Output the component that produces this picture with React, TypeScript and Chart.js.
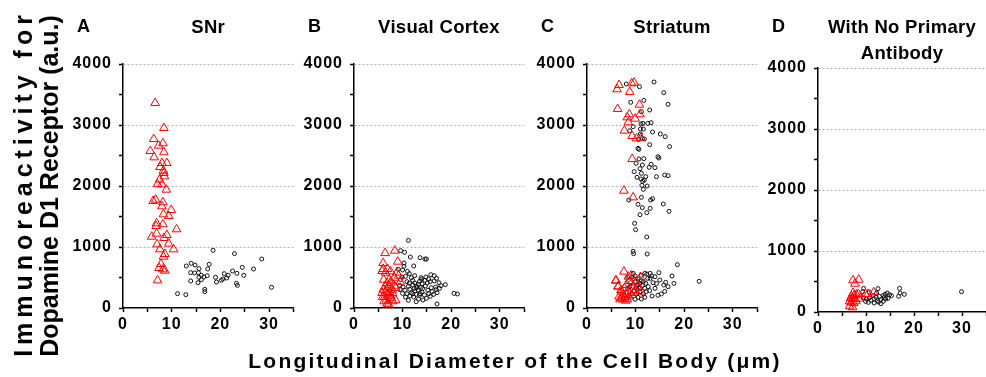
import React, { useEffect, useRef } from 'react';
import { Chart, registerables } from 'chart.js';

Chart.register(...registerables);

const FONT = '"Liberation Sans", Arial, Helvetica, sans-serif';

type Pt = [number, number];

// Axis ticks
const xTickLabels = [0, 10, 20, 30];
const yTickLabels = [0, 1000, 2000, 3000, 4000];

// Panel titles
const panelLetters = ['A', 'B', 'C', 'D'];
const panelTitles = [['SNr'], ['Visual Cortex'], ['Striatum'], ['With No Primary', 'Antibody']];

// A: SNr
const snrTriangles: Pt[] = [
  [6.6, 3361], [8.4, 2951], [6.3, 2770], [8.2, 2700], [7.3, 2661], [5.6, 2574], [6.4, 2470], [8.4, 2552],
  [9.0, 2377], [8.0, 2377], [7.6, 2311], [8.3, 2251], [8.4, 2213], [8.5, 2158], [7.5, 2104], [7.1, 2027],
  [8.0, 2027], [8.9, 1940], [6.7, 1776], [6.2, 1754], [8.2, 1732], [8.0, 1667], [9.9, 1607], [8.3, 1535],
  [9.4, 1508], [6.9, 1388], [8.2, 1372], [6.8, 1344], [11.0, 1290], [6.9, 1219], [5.9, 1169], [9.0, 1197],
  [8.4, 1148], [9.4, 1055], [7.0, 1044], [10.4, 962], [7.6, 962], [8.6, 885], [8.3, 842], [7.8, 721],
  [7.4, 656], [8.2, 634], [8.6, 612], [7.1, 453],
];
const snrCircles: Pt[] = [
  [18.5, 945], [22.9, 891], [28.5, 803], [13.0, 689], [14.0, 732], [14.8, 705], [17.7, 716], [17.4, 639],
  [15.6, 645], [13.9, 579], [14.7, 574], [15.5, 579], [16.1, 536], [16.6, 508], [17.3, 530], [15.6, 503],
  [16.1, 464], [13.9, 443], [15.4, 415], [19.0, 503], [19.2, 426], [20.8, 563], [21.6, 536], [22.5, 607],
  [23.4, 568], [24.5, 667], [24.8, 536], [26.8, 639], [20.5, 475], [21.3, 492], [20.2, 453], [23.3, 404],
  [23.5, 371], [16.8, 306], [16.8, 268], [11.2, 235], [12.9, 219], [30.5, 339],
];

// B: Visual Cortex
const cortexTriangles: Pt[] = [
  [6.4, 900], [8.4, 940], [6.0, 737], [9.0, 759], [5.8, 607], [6.5, 579], [7.5, 601], [8.3, 497],
  [9.2, 530], [7.2, 464], [6.8, 410], [7.6, 437], [6.4, 344], [6.9, 317], [5.8, 246], [7.3, 262],
  [6.3, 180], [6.7, 137], [7.7, 158], [8.6, 126], [7.1, 60], [5.9, 180], [7.0, 224], [8.3, 366],
  [6.1, 464], [7.2, 372], [6.5, 273], [7.9, 246], [6.8, 71], [7.9, 300], [8.6, 330], [6.0, 300],
  [7.5, 200], [8.0, 110], [6.2, 110], [9.5, 430], [8.8, 580], [6.9, 640], [6.0, 640],
];
const cortexCircles: Pt[] = [
  [11.2, 1109], [9.6, 940], [10.4, 913], [11.6, 836], [13.6, 825], [14.6, 803], [14.9, 803], [10.3, 738],
  [10.3, 683], [12.3, 689], [9.1, 634], [10.0, 623], [11.0, 601], [11.4, 563], [9.9, 508], [10.6, 519],
  [12.5, 530], [13.8, 497], [14.8, 508], [15.8, 546], [16.5, 530], [17.0, 486], [9.6, 464], [10.9, 432],
  [12.1, 453], [13.5, 437], [14.6, 453], [15.7, 432], [17.5, 415], [18.8, 383], [9.4, 372], [10.1, 344],
  [11.2, 355], [12.1, 377], [12.9, 355], [13.8, 339], [14.7, 361], [15.9, 333], [16.8, 344], [17.6, 322],
  [10.5, 290], [11.5, 306], [12.5, 279], [13.2, 295], [14.0, 262], [15.2, 290], [16.1, 268], [16.9, 301],
  [10.9, 235], [11.8, 251], [12.8, 224], [13.6, 235], [14.5, 213], [15.4, 235], [16.4, 224], [10.6, 180],
  [12.3, 180], [13.3, 148], [14.2, 131], [20.6, 240], [21.3, 230], [17.1, 66], [11.5, 197], [12.9, 328],
  [12.1, 235], [13.3, 388], [14.1, 317], [15.1, 410], [12.5, 410], [11.4, 410], [13.5, 208], [15.7, 191],
  [14.9, 158], [11.2, 126], [12.8, 104], [10.0, 240], [16.5, 443], [17.1, 251], [17.9, 366], [13.9, 470],
  [15.4, 475], [11.8, 497], [9.5, 301], [14.0, 399], [12.4, 322],
];

// C: Striatum
const striatumTriangles: Pt[] = [
  [6.6, 3656], [6.2, 3585], [9.2, 3683], [9.7, 3694], [8.8, 3541], [6.3, 3262], [10.8, 3333], [8.7, 3175],
  [8.3, 3126], [8.5, 3044], [9.9, 3104], [10.9, 3175], [7.7, 2907], [9.3, 2820], [10.2, 2781], [11.1, 2792],
  [9.3, 2443], [7.6, 1923], [9.5, 1814],
  [7.6, 596], [5.9, 448], [8.5, 514], [11.0, 508], [6.4, 350], [7.0, 295], [7.7, 322], [8.1, 377],
  [8.5, 268], [7.3, 208], [7.8, 175], [8.6, 186], [6.8, 142], [7.5, 142], [8.3, 142], [9.2, 213],
  [9.9, 295], [10.5, 350], [10.2, 415], [9.4, 350], [11.1, 268], [8.8, 443], [8.0, 230], [7.1, 268],
  [6.6, 186], [6.0, 453], [6.4, 355], [9.1, 535], [7.2, 160], [8.0, 120], [9.6, 250],
];
const striatumCircles: Pt[] = [
  [13.8, 3705], [8.1, 3672], [10.8, 3628], [15.8, 3530], [16.7, 3339], [9.0, 3372], [11.7, 3404], [12.9, 3246],
  [11.2, 3219], [11.5, 3027], [11.1, 3016], [12.5, 3027], [13.2, 3038], [9.5, 2973], [11.0, 2934], [11.6, 2934],
  [13.5, 2885], [15.1, 2852], [16.1, 2809], [8.8, 2907], [11.0, 2852], [11.4, 2776], [11.8, 2770], [10.6, 2765],
  [12.9, 2678], [17.0, 2645], [10.5, 2617], [10.7, 2601], [14.6, 2481], [14.8, 2459], [11.7, 2448], [10.7, 2443],
  [13.2, 2355], [10.1, 2372], [11.4, 2344], [14.0, 2301], [10.9, 2284], [12.8, 2306], [9.7, 2235], [16.0, 2180],
  [16.7, 2169], [11.2, 2208], [12.1, 2153], [14.3, 2153], [11.1, 2115], [10.3, 2142], [11.5, 2077], [12.4, 2000],
  [11.8, 2098], [11.3, 2011], [11.6, 1945], [8.6, 1770], [13.1, 1770], [13.5, 1792], [13.0, 1634], [10.5, 1699],
  [15.7, 1705], [16.9, 1585], [11.2, 1814], [11.4, 1645], [12.3, 1563], [10.9, 1530], [9.8, 1388], [10.0, 1284],
  [12.3, 1164], [9.5, 929], [9.6, 890], [12.4, 885],
  [18.6, 710], [23.1, 437], [17.5, 525], [17.9, 404], [14.8, 579], [16.2, 421], [16.7, 350], [16.0, 273],
  [15.3, 230], [14.6, 208], [14.0, 322], [13.6, 415], [13.3, 525], [13.0, 568], [12.3, 557], [11.9, 568],
  [12.5, 486], [11.2, 535], [10.5, 475], [9.9, 525], [9.5, 568], [9.2, 503], [9.9, 432], [10.3, 377],
  [10.9, 322], [11.4, 372], [11.9, 322], [12.6, 350], [12.9, 284], [12.2, 268], [11.6, 230], [11.9, 175],
  [11.2, 148], [10.5, 175], [10.2, 230], [9.7, 284], [9.3, 230], [8.8, 350], [9.0, 415], [8.4, 503],
  [8.4, 322], [9.9, 142], [10.9, 404], [11.6, 432], [13.4, 197], [14.3, 399], [15.0, 459], [15.8, 377],
  [14.0, 514], [10.9, 268], [11.2, 448], [12.1, 404], [13.0, 486], [10.2, 322],
];

// D: With No Primary Antibody
const controlTriangles: Pt[] = [
  [7.3, 519], [8.5, 530], [7.7, 464], [7.3, 311], [7.0, 257], [6.8, 230], [7.5, 268], [8.0, 284],
  [8.4, 295], [7.7, 213], [8.7, 219], [6.9, 158], [7.4, 148], [6.6, 93], [7.2, 77], [9.9, 290],
  [10.4, 295], [11.6, 322], [7.9, 175], [7.3, 213], [6.6, 175],
];
const controlCircles: Pt[] = [
  [9.5, 388], [9.3, 333], [10.7, 328], [12.5, 383], [17.0, 388], [17.1, 311], [18.0, 290], [16.8, 257],
  [29.9, 333], [14.0, 290], [14.4, 311], [13.6, 268], [14.9, 284], [15.3, 268], [12.8, 257], [12.1, 240],
  [11.4, 268], [10.7, 230], [10.1, 213], [9.9, 175], [10.5, 158], [11.7, 148], [12.4, 186], [13.1, 202],
  [13.6, 175], [14.1, 213], [14.6, 224], [13.1, 137], [12.6, 164], [13.8, 235], [11.0, 191], [9.4, 230],
  [11.7, 219], [12.2, 311],
];

const yTitleLines = ['Immunoreactivity for', 'Dopamine D1 Receptor (a.u.)'];
const xTitle = 'Longitudinal Diameter of the Cell Body (\u03bcm)';

interface Spec {
  idx: number;
  tri: Pt[];
  circ: Pt[];
  left: number;
  width: number;
  yWidth: number;
  padRight: number;
  top: number;
  bottom: number;
  yTitle?: boolean;
}

const specs: Spec[] = [
  { idx: 0, tri: snrTriangles, circ: snrCircles, left: 0, width: 300, yWidth: 123, padRight: 6.6, top: 64, bottom: 308, yTitle: true },
  { idx: 1, tri: cortexTriangles, circ: cortexCircles, left: 300, width: 232, yWidth: 54, padRight: 8, top: 64, bottom: 308 },
  { idx: 2, tri: striatumTriangles, circ: striatumCircles, left: 532, width: 232, yWidth: 55, padRight: 7, top: 64, bottom: 308 },
  { idx: 3, tri: controlTriangles, circ: controlCircles, left: 764, width: 228, yWidth: 54, padRight: 4, top: 68, bottom: 312 },
];

function makeTextPlugin(spec: Spec) {
  return {
    id: 'panelText' + spec.idx,
    afterInit(chart: any) {
      chart.ctx.letterSpacing = '1px';
    },
    beforeUpdate(chart: any) {
      chart.ctx.letterSpacing = '1px';
    },
    afterDraw(chart: any) {
      const { ctx, chartArea } = chart;
      ctx.save();
      ctx.fillStyle = '#000';
      ctx.textBaseline = 'alphabetic';
      ctx.letterSpacing = '0px';
      ctx.textAlign = 'left';
      ctx.font = `bold 18px ${FONT}`;
      ctx.fillText(panelLetters[spec.idx], chartArea.left - 46, 32);
      ctx.textAlign = 'center';
      ctx.font = `bold 18.5px ${FONT}`;
      ctx.letterSpacing = '0.3px';
      const cx = (chartArea.left + chartArea.right) / 2;
      panelTitles[spec.idx].forEach((t, i) => ctx.fillText(t, cx, 33 + i * 26));
      if (spec.yTitle) {
        ctx.letterSpacing = '0px';
        ctx.font = `bold 25px ${FONT}`;
        const cy = (chartArea.top + chartArea.bottom) / 2;
        const baselines = [32, 58];
        const full = ctx.measureText(yTitleLines[1]).width;
        yTitleLines.forEach((t, i) => {
          const w = ctx.measureText(t).width;
          const extra = t.length > 1 ? Math.max(0, (full - w) / (t.length - 1)) : 0;
          ctx.save();
          ctx.letterSpacing = extra + 'px';
          ctx.translate(baselines[i], cy + full / 2);
          ctx.rotate(-Math.PI / 2);
          ctx.textAlign = 'left';
          ctx.fillText(t, 0, 0);
          ctx.restore();
        });
      }
      ctx.restore();
    },
  };
}

function Panel({ spec }: { spec: Spec }) {
  const ref = useRef<HTMLCanvasElement>(null);
  useEffect(() => {
    const tickFont = { family: FONT, size: 16, weight: 'bold' as const };
    const chart = new Chart(ref.current as HTMLCanvasElement, {
      type: 'scatter',
      data: {
        datasets: [
          {
            data: spec.tri.map(([x, y]) => ({ x, y })),
            pointStyle: 'triangle',
            pointRadius: 5,
            pointHoverRadius: 5,
            borderColor: '#ff0000',
            backgroundColor: 'rgba(0,0,0,0)',
            borderWidth: 1,
          },
          {
            data: spec.circ.map(([x, y]) => ({ x, y })),
            pointStyle: 'circle',
            pointRadius: 2,
            pointHoverRadius: 2,
            borderColor: '#111',
            backgroundColor: 'rgba(0,0,0,0)',
            borderWidth: 1,
          },
        ],
      },
      options: {
        responsive: false,
        animation: false,
        devicePixelRatio: 1,
        events: [],
        layout: { padding: { top: spec.top, right: spec.padRight, left: 0, bottom: 0 } },
        plugins: { legend: { display: false }, tooltip: { enabled: false }, title: { display: false } },
        scales: {
          x: {
            type: 'linear',
            min: 0,
            max: 35,
            afterFit: (s: any) => { s.height = 377 - spec.bottom; },
            ticks: {
              stepSize: 5,
              autoSkip: false,
              maxRotation: 0,
              padding: 3,
              color: '#000',
              font: tickFont,
              callback: (v: any) => (xTickLabels.includes(Number(v)) ? String(v) : ''),
            },
            grid: { drawOnChartArea: false, color: '#000', tickColor: '#000', tickLength: 4, tickWidth: 1.5 },
            border: { color: '#000', width: 1.5 },
          },
          y: {
            type: 'linear',
            min: 0,
            max: 4000,
            afterFit: (s: any) => { s.width = spec.yWidth; },
            ticks: {
              stepSize: 500,
              autoSkip: false,
              padding: 7,
              color: '#000',
              font: tickFont,
              callback: (v: any) => (yTickLabels.includes(Number(v)) ? String(v) : ''),
            },
            grid: {
              color: (c: any) => (c.tick && c.tick.value > 0 && c.tick.value % 1000 === 0 ? '#b0b0b0' : 'rgba(0,0,0,0)'),
              lineWidth: 1,
              tickColor: '#000',
              tickLength: 4,
              tickWidth: 1.5,
            },
            border: { color: '#000', width: 1.5, dash: [2, 2] },
          },
        },
      },
      plugins: [makeTextPlugin(spec)],
    } as any);
    return () => chart.destroy();
  }, [spec]);
  return (
    <canvas
      ref={ref}
      width={spec.width}
      height={377}
      style={{ position: 'absolute', left: spec.left, top: 0, width: spec.width, height: 377 }}
    />
  );
}

export default function App() {
  return (
    <div style={{ position: 'absolute', left: 0, top: 0, width: 986, height: 377, overflow: 'hidden', background: '#fff' }}>
      {specs.map((s) => (
        <Panel key={s.idx} spec={s} />
      ))}
      <div
        style={{
          position: 'absolute',
          left: 0,
          top: 350,
          width: 1030,
          textAlign: 'center',
          whiteSpace: 'nowrap',
          fontFamily: FONT,
          fontWeight: 'bold',
          fontSize: 21,
          lineHeight: '21px',
          letterSpacing: '2.2px',
          color: '#000',
        }}
      >
        {xTitle}
      </div>
    </div>
  );
}
